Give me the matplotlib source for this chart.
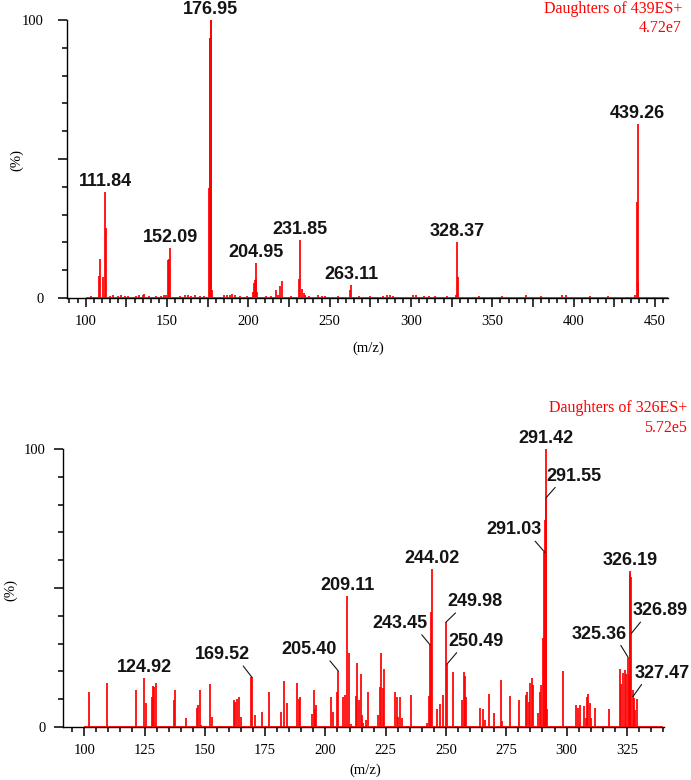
import matplotlib
matplotlib.use("Agg")
import matplotlib.pyplot as plt
from matplotlib.ticker import MultipleLocator, FixedLocator, FuncFormatter

RED = "#ff0000"
INK = "#141414"

# ---- top spectrum: daughters of 439 ----
top_title = ["Daughters of 439ES+", "4.72e7"]
top_scan = [100, 458]
top_mz = [108.0, 109.0, 110.7, 111.84, 112.5, 149.4, 150.6, 151.1, 152.09,
          175.9, 176.3, 176.6, 176.95, 177.3, 177.6, 202.6, 203.3, 203.9, 204.5, 204.95, 205.6,
          217.2, 218.2, 219.6, 220.6, 231.3, 231.85, 233.0, 234.0, 235.0,
          262.3, 263.11, 327.6, 328.37, 329.0, 437.6, 438.8, 439.26, 439.7]
top_int = [8.0, 14.0, 7.4, 38.0, 25.0, 1.2, 13.8, 14.0, 18.0,
           39.5, 93.4, 93.4, 100.0, 100.0, 3.0, 2.0, 5.5, 6.5, 7.0, 12.6, 2.0,
           3.0, 1.0, 4.3, 6.0, 7.0, 21.0, 3.2, 1.8, 1.0,
           2.7, 4.8, 1.0, 20.0, 7.4, 1.0, 34.7, 62.6, 5.7]
top_noise_mz = [103, 105, 115, 117, 120, 122, 124, 126, 131, 133, 135, 136, 139, 143,
                146, 148, 158, 161, 163, 165, 167, 170, 173, 185, 187, 189, 190, 192,
                195, 199, 211, 214, 226, 237, 243, 245, 247, 255, 268, 275, 283, 285,
                287, 289, 301, 303, 308, 311, 315, 322, 342, 356, 371, 380, 393, 395,
                410, 421, 433]
top_noise_int = [0.6, 0.5, 0.8, 1.0, 0.8, 0.9, 0.8, 0.7, 0.8, 0.9, 1.2, 1.5, 0.6, 0.8,
                 0.7, 0.9, 0.8, 0.9, 1.0, 0.8, 0.9, 0.7, 0.8, 0.9, 1.0, 1.2, 1.6, 1.0,
                 0.7, 0.6, 0.8, 0.7, 0.6, 0.8, 0.9, 0.8, 0.7, 0.6, 0.6, 0.7, 0.8, 1.0,
                 1.0, 0.8, 1.0, 0.9, 0.6, 0.8, 0.7, 0.6, 0.6, 0.6, 0.9, 0.6, 1.0, 1.0,
                 0.6, 0.6, 0.5]
top_labels = ["111.84", "152.09", "176.95", "204.95", "231.85", "263.11", "328.37", "439.26"]
top_label_int = [38.0, 18.0, 100.0, 12.6, 21.0, 4.8, 20.0, 62.6]

# ---- bottom spectrum: daughters of 326 ----
bot_title = ["Daughters of 326ES+", "5.72e5"]
bot_scan = [100, 340]
bot_mz = [102.0, 109.3, 121.4, 124.92, 125.5, 128.0, 128.5, 129.0, 129.6, 137.1, 137.8,
          142.1, 146.7, 147.3, 147.9, 148.5, 152.3, 153.0, 162.0, 162.6, 163.2, 164.3,
          165.0, 169.0, 169.52, 170.9, 173.9, 176.8, 181.7, 182.8, 184.2, 188.2, 188.9,
          189.6, 194.6, 195.1, 195.7, 196.2, 202.3, 203.0, 204.8, 205.40, 207.5, 208.2,
          209.11, 209.6, 210.6, 212.7, 213.3, 214.1, 214.6, 215.2, 215.7, 216.8, 217.5,
          222.0, 222.6, 223.1, 223.8, 224.5, 228.7, 229.6, 230.3, 231.0, 231.6, 235.6,
          242.1, 243.0, 243.45, 243.75, 244.02, 246.4, 247.6, 248.7, 249.98, 250.49,
          252.9, 256.7, 257.3, 257.8, 258.4, 264.2, 265.3, 266.1, 267.7, 270.1, 272.8,
          273.2, 276.5, 280.2, 283.0, 283.7, 284.3, 285.0, 285.5, 286.0, 288.1, 289.1,
          289.6, 290.2, 290.7, 291.03, 291.42, 291.55, 292.0, 298.6, 303.9, 304.6,
          305.7, 307.3, 307.9, 308.4, 309.0, 309.6, 310.3, 311.6, 317.6, 322.0, 322.7,
          323.4, 324.1, 324.8, 325.36, 325.7, 326.19, 326.5, 326.89, 327.47, 327.9,
          328.4, 329.2]
bot_int = [12.7, 15.9, 13.3, 17.7, 8.7, 10.9, 14.7, 14.5, 15.9, 9.7, 13.3,
           3.4, 6.9, 7.9, 13.3, 0.6, 15.5, 3.7, 9.7, 9.1, 10.0, 10.7,
           3.7, 17.9, 17.9, 4.3, 5.3, 12.6, 5.3, 16.5, 8.5, 15.9, 10.1,
           10.7, 4.7, 13.3, 6.4, 7.9, 10.7, 5.3, 12.6, 20.1, 10.7, 11.5,
           47.0, 26.6, 1.0, 11.2, 22.9, 9.7, 18.9, 4.3, 1.4, 2.6, 12.6,
           4.3, 14.5, 26.5, 14.2, 20.8, 12.6, 10.7, 3.7, 10.7, 3.4, 11.5,
           1.4, 11.2, 29.5, 41.5, 56.8, 6.4, 8.2, 11.5, 37.7, 22.7,
           19.9, 9.7, 19.7, 18.3, 10.7, 6.8, 6.4, 2.6, 11.9, 4.9, 16.9,
           2.0, 11.2, 9.7, 11.5, 12.7, 9.1, 15.7, 17.7, 15.2, 5.2, 12.7,
           15.2, 31.9, 62.8, 74.6, 100.0, 82.5, 6.4, 20.1, 7.9, 6.8,
           7.9, 7.6, 3.2, 10.7, 11.9, 8.7, 3.2, 6.8, 6.4, 20.8, 15.5,
           19.4, 20.6, 19.0, 25.3, 19.0, 56.1, 55.0, 53.8, 13.3, 10.4,
           6.0, 10.0]
bot_labels = ["124.92", "169.52", "205.40", "209.11", "243.45", "244.02", "249.98",
              "250.49", "291.03", "291.42", "291.55", "325.36", "326.19", "326.89", "327.47"]
bot_label_int = [17.7, 17.9, 20.1, 47.0, 29.5, 56.8, 37.7,
                 22.7, 62.8, 100.0, 82.5, 25.3, 56.1, 33.7, 10.9]

# leader-line layout for labels that sit beside their peak: (dx px, dy px, relpos x)
leaders = {
    "169.52": (-29, 14, 0.83), "205.40": (-29, 13, 0.83), "243.45": (-30, 13, 0.85),
    "249.98": (29, 12, 0.2), "250.49": (29, 14, 0.19), "291.03": (-31, 14, 0.84),
    "291.55": (28, 13, 0.2), "325.36": (-29, 14, 0.87), "326.89": (29, 14, 0.18),
    "327.47": (29, 15, 0.17),
}


def draw_spectrum(ax, mz, inten, scan, xlim, label_step, ypad):
    ax.hlines(0, scan[0], scan[1], color=RED, lw=1.3, zorder=3)
    ax.vlines(mz, 0, inten, color=RED, lw=1.25, zorder=3)
    ax.set_xlim(xlim)
    ax.set_ylim(0, 100)
    for s in ["top", "right"]:
        ax.spines[s].set_visible(False)
    for s in ["left", "bottom"]:
        ax.spines[s].set_linewidth(1.0)
    ax.xaxis.set_major_locator(MultipleLocator(25))
    ax.xaxis.set_minor_locator(MultipleLocator(5))
    ax.xaxis.set_major_formatter(FuncFormatter(
        lambda v, p: f"{v:.0f}" if v % label_step == 0 else ""))
    ax.yaxis.set_major_locator(FixedLocator([0, 50, 100]))
    ax.yaxis.set_minor_locator(MultipleLocator(10))
    ax.yaxis.set_major_formatter(FuncFormatter(
        lambda v, p: f"{v:.0f}" if v in (0, 100) else ""))
    ax.tick_params(which="major", direction="out", length=6.5, width=1.1,
                   labelsize=10.5, colors="black")
    ax.tick_params(which="minor", direction="out", length=3.6, width=1.1)
    ax.tick_params(axis="x", which="major", pad=6)
    ax.tick_params(axis="y", which="major", pad=ypad)
    for lab in ax.get_xticklabels() + ax.get_yticklabels():
        lab.set_family("Liberation Serif")


def peak_labels(ax, labels, heights):
    for txt, h in zip(labels, heights):
        kw = dict(ha="center", va="bottom", fontsize=13, fontweight="bold",
                  family="Liberation Sans", color=INK, textcoords="offset pixels")
        if txt in leaders:
            dx, dy, rx = leaders[txt]
            ax.annotate(txt, xy=(float(txt), h), xytext=(dx, dy),
                        arrowprops=dict(arrowstyle="-", color=INK, lw=0.8,
                                        shrinkA=0, shrinkB=0, relpos=(rx, 0)),
                        **kw)
        else:
            ax.annotate(txt, xy=(float(txt), h), xytext=(0, 2), **kw)


fig = plt.figure(figsize=(6.91, 7.80), dpi=100)
serif = "Liberation Serif"

ax1 = fig.add_axes([67 / 691, 1 - 298 / 780, 601 / 691, 278 / 780])
draw_spectrum(ax1, top_mz + top_noise_mz, top_int + top_noise_int,
              top_scan, (88.5, 458), 50, 10)
peak_labels(ax1, top_labels, top_label_int)

ax2 = fig.add_axes([63 / 691, 1 - 727 / 780, 601 / 691, 278 / 780])
draw_spectrum(ax2, bot_mz, bot_int, bot_scan, (91.2, 340.4), 25, 6)
peak_labels(ax2, bot_labels, bot_label_int)

# axis titles
fig.text(17 / 691, 1 - 160 / 780, "(%)", rotation=90, ha="center", va="center",
         family=serif, fontsize=10.5)
fig.text(11 / 691, 1 - 590 / 780, "(%)", rotation=90, ha="center", va="center",
         family=serif, fontsize=10.5)
fig.text(368 / 691, 1 - 348 / 780, "(m/z)", ha="center", va="center",
         family=serif, fontsize=10.5)
fig.text(365 / 691, 1 - 770 / 780, "(m/z)", ha="center", va="center",
         family=serif, fontsize=10.5)

# red run headers
fig.text(682 / 691, 1 - 1 / 780, top_title[0], ha="right", va="top",
         color=RED, family=serif, fontsize=11.5)
fig.text(682 / 691, 1 - 20 / 780, top_title[1], ha="right", va="top",
         color=RED, family=serif, fontsize=11.5)
fig.text(687 / 691, 1 - 400 / 780, bot_title[0], ha="right", va="top",
         color=RED, family=serif, fontsize=11.5)
fig.text(687 / 691, 1 - 420 / 780, bot_title[1], ha="right", va="top",
         color=RED, family=serif, fontsize=11.5)

fig.savefig("out.png", dpi=100)
